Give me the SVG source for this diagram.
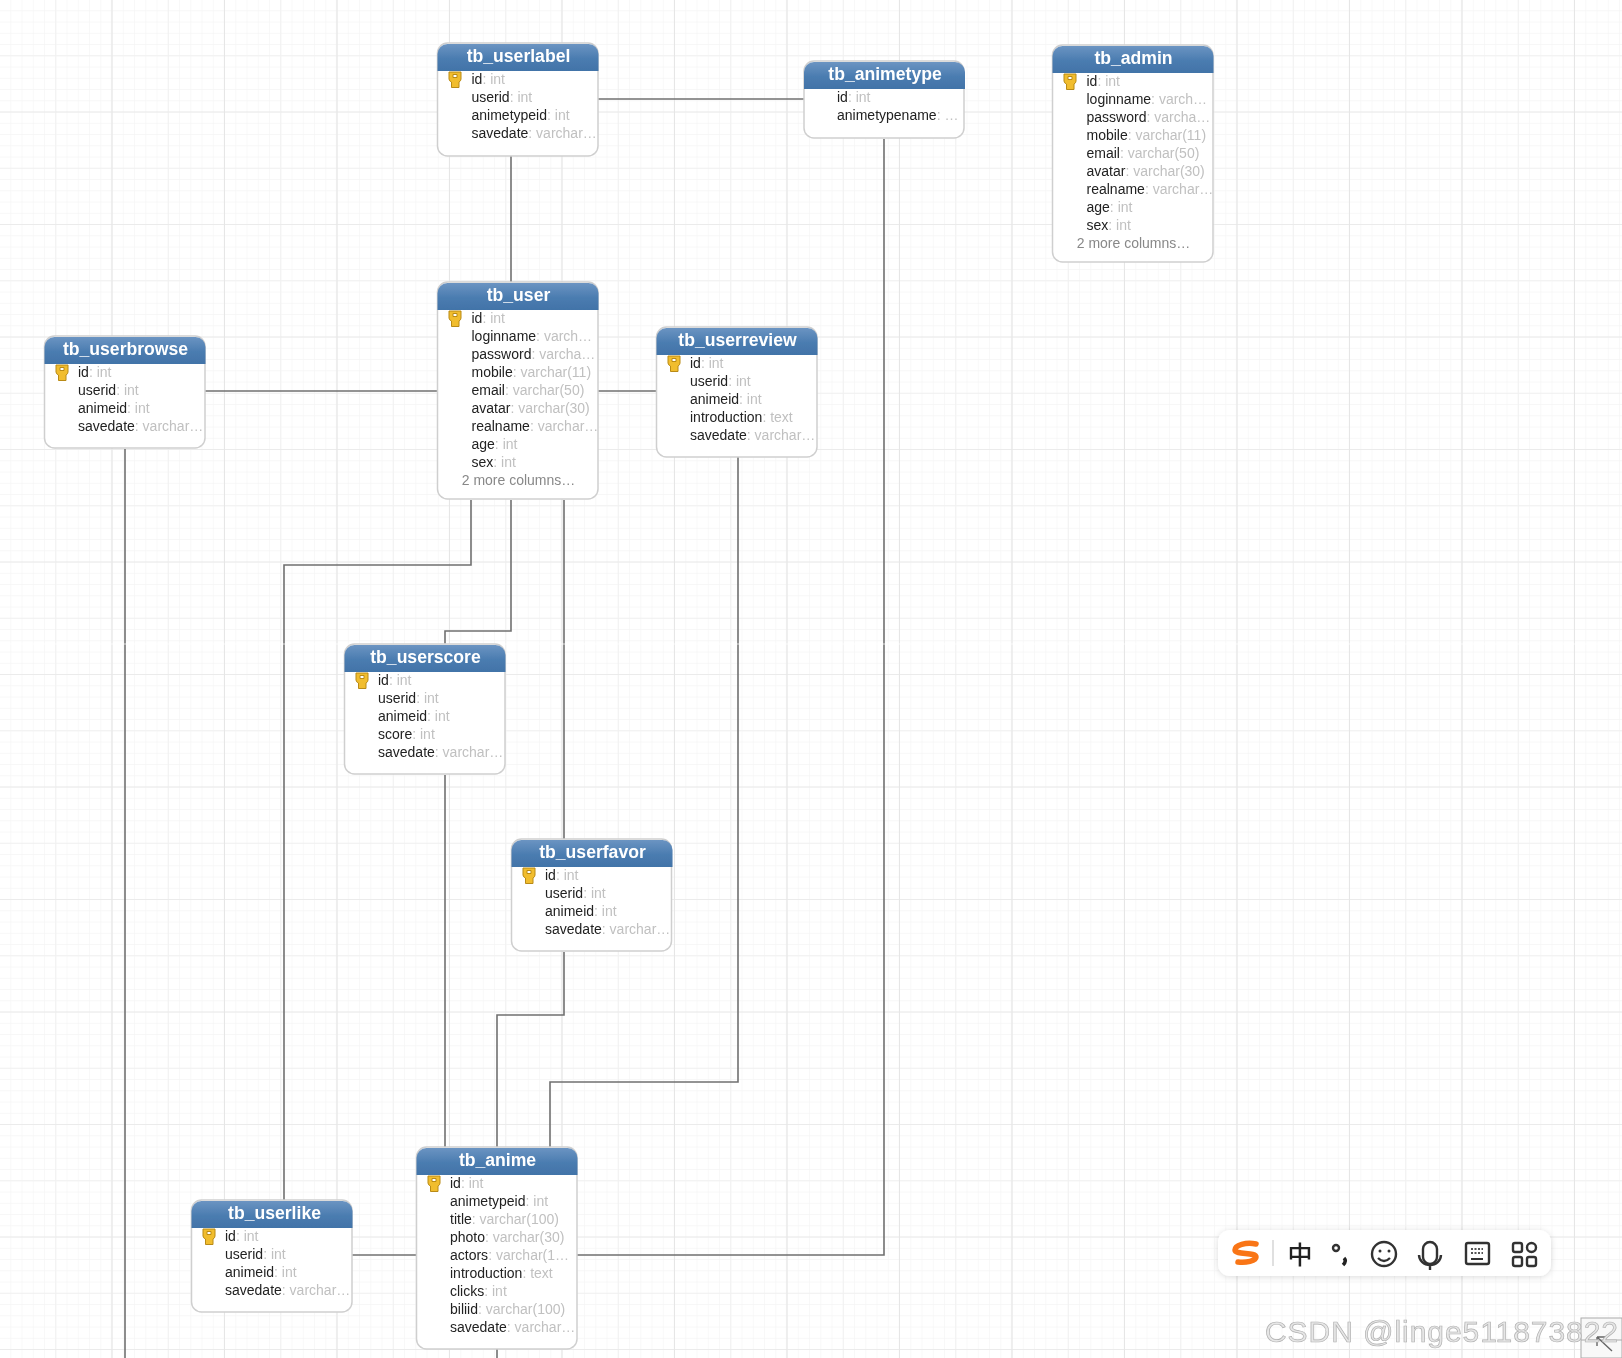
<svg xmlns="http://www.w3.org/2000/svg" width="1622" height="1358" viewBox="0 0 1622 1358">
<style>
.c{fill:none;stroke:#707070;stroke-width:1.6}
.box{fill:#fff;stroke:#cfcfcf;stroke-width:1.5}
.t{font:bold 17.600px "Liberation Sans",Arial,sans-serif;fill:#fff;text-anchor:middle}
.r{font:14px "Liberation Sans",Arial,sans-serif;fill:#222}
.r tspan{fill:#c0c0c0}
.m{font:14px "Liberation Sans",Arial,sans-serif;fill:#888;text-anchor:middle}
.ic{fill:none;stroke:#333;stroke-width:2.4}
</style>
<defs>
<pattern id="gf" width="11.25" height="11.25" patternUnits="userSpaceOnUse"><path d="M11.25 0V11.25M0 11.25H11.25" fill="none" stroke="#f5f5f5" stroke-width="1.3"/></pattern>
<pattern id="gm" width="56.25" height="56.25" patternUnits="userSpaceOnUse"><path d="M56 0V56.25M0 56H56.25" fill="none" stroke="#f1f1f1" stroke-width="1.5"/></pattern>
<pattern id="gM" width="112.5" height="112.5" patternUnits="userSpaceOnUse"><path d="M112 0V112.5M0 112.5H112.5" fill="none" stroke="#e6e6e6" stroke-width="1.2"/></pattern>
<linearGradient id="hd" x1="0" y1="0" x2="0" y2="1"><stop offset="0" stop-color="#6b94c2"/><stop offset=".55" stop-color="#4a7cb0"/><stop offset="1" stop-color="#4273a8"/></linearGradient>
<filter id="soft" x="-5%" y="-5%" width="110%" height="110%"><feGaussianBlur stdDeviation="0.5"/></filter>
<filter id="sh" x="-10%" y="-20%" width="120%" height="150%"><feDropShadow dx="0" dy="1" stdDeviation="3" flood-color="#000" flood-opacity=".14"/></filter>
<g id="hdr"><path d="M0 28V11a10 10 0 0 1 10-10H151a10 10 0 0 1 10 10V28Z" fill="url(#hd)"/></g>
<g id="key"><path d="M11.500 29H23.500V36Q23.500 38 21.500 39V44.500H14V39Q11.500 38 11.500 36Z M15.500 31.500V34.500H19.500V31.500Z" fill="#f1bd2e" stroke="#b98a12" stroke-width="1" fill-rule="evenodd"/></g>
</defs>
<rect width="1622" height="1358" fill="#fff"/>
<rect width="1622" height="1358" fill="url(#gf)"/>
<rect width="1622" height="1358" fill="url(#gm)"/>
<rect width="1622" height="1358" fill="url(#gM)"/>
<g filter="url(#soft)">
<g id="connectors">
<path class="c" d="M598 99H804"/>
<path class="c" d="M511 156V282"/>
<path class="c" d="M884 139V1255H577"/>
<path class="c" d="M205 391H437"/>
<path class="c" d="M598 391H656"/>
<path class="c" d="M471 500V565H284V1200"/>
<path class="c" d="M511 500V631H445V644"/>
<path class="c" d="M564 500V839"/>
<path class="c" d="M445 775V1147"/>
<path class="c" d="M564 952V1015H497V1147"/>
<path class="c" d="M738 457V1082H550V1147"/>
<path class="c" d="M352 1255H417"/>
<path class="c" d="M125 449V1358"/>
<path class="c" d="M497 1349V1358"/>
</g>
<rect y="643.500" width="1622" height="1" fill="#fff" opacity=".75"/>
<g id="tb_userlabel" transform="translate(437.500 43)"><rect class="box" width="160.500" height="113" rx="10"/><use href="#hdr"/><use href="#key"/><text class="t" x="81" y="19">tb_userlabel</text>
<text class="r" x="34" y="41">id<tspan>: int</tspan></text><text class="r" x="34" y="59">userid<tspan>: int</tspan></text><text class="r" x="34" y="77">animetypeid<tspan>: int</tspan></text><text class="r" x="34" y="95">savedate<tspan>: varchar…</tspan></text></g>
<g id="tb_animetype" transform="translate(804 61)"><rect class="box" width="160" height="77" rx="10"/><use href="#hdr"/><text class="t" x="81" y="19">tb_animetype</text>
<text class="r" x="33" y="41">id<tspan>: int</tspan></text><text class="r" x="33" y="59">animetypename<tspan>: …</tspan></text></g>
<g id="tb_admin" transform="translate(1052.500 45)"><rect class="box" width="160.500" height="217" rx="10"/><use href="#hdr"/><use href="#key"/><text class="t" x="81" y="19">tb_admin</text>
<text class="r" x="34" y="41">id<tspan>: int</tspan></text><text class="r" x="34" y="59">loginname<tspan>: varch…</tspan></text><text class="r" x="34" y="77">password<tspan>: varcha…</tspan></text><text class="r" x="34" y="95">mobile<tspan>: varchar(11)</tspan></text><text class="r" x="34" y="113">email<tspan>: varchar(50)</tspan></text><text class="r" x="34" y="131">avatar<tspan>: varchar(30)</tspan></text><text class="r" x="34" y="149">realname<tspan>: varchar…</tspan></text><text class="r" x="34" y="167">age<tspan>: int</tspan></text><text class="r" x="34" y="185">sex<tspan>: int</tspan></text><text class="m" x="81" y="203">2 more columns…</text></g>
<g id="tb_user" transform="translate(437.500 282)"><rect class="box" width="160.500" height="217" rx="10"/><use href="#hdr"/><use href="#key"/><text class="t" x="81" y="19">tb_user</text>
<text class="r" x="34" y="41">id<tspan>: int</tspan></text><text class="r" x="34" y="59">loginname<tspan>: varch…</tspan></text><text class="r" x="34" y="77">password<tspan>: varcha…</tspan></text><text class="r" x="34" y="95">mobile<tspan>: varchar(11)</tspan></text><text class="r" x="34" y="113">email<tspan>: varchar(50)</tspan></text><text class="r" x="34" y="131">avatar<tspan>: varchar(30)</tspan></text><text class="r" x="34" y="149">realname<tspan>: varchar…</tspan></text><text class="r" x="34" y="167">age<tspan>: int</tspan></text><text class="r" x="34" y="185">sex<tspan>: int</tspan></text><text class="m" x="81" y="203">2 more columns…</text></g>
<g id="tb_userbrowse" transform="translate(44.500 336)"><rect class="box" width="160.500" height="112" rx="10"/><use href="#hdr"/><use href="#key"/><text class="t" x="81" y="19">tb_userbrowse</text>
<text class="r" x="33.500" y="41">id<tspan>: int</tspan></text><text class="r" x="33.500" y="59">userid<tspan>: int</tspan></text><text class="r" x="33.500" y="77">animeid<tspan>: int</tspan></text><text class="r" x="33.500" y="95">savedate<tspan>: varchar…</tspan></text></g>
<g id="tb_userreview" transform="translate(656.500 327)"><rect class="box" width="160.500" height="130" rx="10"/><use href="#hdr"/><use href="#key"/><text class="t" x="81" y="19">tb_userreview</text>
<text class="r" x="33.500" y="41">id<tspan>: int</tspan></text><text class="r" x="33.500" y="59">userid<tspan>: int</tspan></text><text class="r" x="33.500" y="77">animeid<tspan>: int</tspan></text><text class="r" x="33.500" y="95">introduction<tspan>: text</tspan></text><text class="r" x="33.500" y="113">savedate<tspan>: varchar…</tspan></text></g>
<g id="tb_userscore" transform="translate(344.500 644)"><rect class="box" width="160.500" height="130" rx="10"/><use href="#hdr"/><use href="#key"/><text class="t" x="81" y="19">tb_userscore</text>
<text class="r" x="33.500" y="41">id<tspan>: int</tspan></text><text class="r" x="33.500" y="59">userid<tspan>: int</tspan></text><text class="r" x="33.500" y="77">animeid<tspan>: int</tspan></text><text class="r" x="33.500" y="95">score<tspan>: int</tspan></text><text class="r" x="33.500" y="113">savedate<tspan>: varchar…</tspan></text></g>
<g id="tb_userfavor" transform="translate(511.500 839)"><rect class="box" width="160" height="112" rx="10"/><use href="#hdr"/><use href="#key"/><text class="t" x="81" y="19">tb_userfavor</text>
<text class="r" x="33.500" y="41">id<tspan>: int</tspan></text><text class="r" x="33.500" y="59">userid<tspan>: int</tspan></text><text class="r" x="33.500" y="77">animeid<tspan>: int</tspan></text><text class="r" x="33.500" y="95">savedate<tspan>: varchar…</tspan></text></g>
<g id="tb_anime" transform="translate(416.500 1147)"><rect class="box" width="160.500" height="202" rx="10"/><use href="#hdr"/><use href="#key"/><text class="t" x="81" y="19">tb_anime</text>
<text class="r" x="33.500" y="41">id<tspan>: int</tspan></text><text class="r" x="33.500" y="59">animetypeid<tspan>: int</tspan></text><text class="r" x="33.500" y="77">title<tspan>: varchar(100)</tspan></text><text class="r" x="33.500" y="95">photo<tspan>: varchar(30)</tspan></text><text class="r" x="33.500" y="113">actors<tspan>: varchar(1…</tspan></text><text class="r" x="33.500" y="131">introduction<tspan>: text</tspan></text><text class="r" x="33.500" y="149">clicks<tspan>: int</tspan></text><text class="r" x="33.500" y="167">biliid<tspan>: varchar(100)</tspan></text><text class="r" x="33.500" y="185">savedate<tspan>: varchar…</tspan></text></g>
<g id="tb_userlike" transform="translate(191.500 1200)"><rect class="box" width="160.500" height="112" rx="10"/><use href="#hdr"/><use href="#key"/><text class="t" x="83" y="19">tb_userlike</text>
<text class="r" x="33.500" y="41">id<tspan>: int</tspan></text><text class="r" x="33.500" y="59">userid<tspan>: int</tspan></text><text class="r" x="33.500" y="77">animeid<tspan>: int</tspan></text><text class="r" x="33.500" y="95">savedate<tspan>: varchar…</tspan></text></g>
<g id="toolbar">
<rect x="1218" y="1230" width="333" height="46" rx="12" fill="#fff" filter="url(#sh)"/>
<path d="M1256 1244C1246 1242 1235 1245 1235 1250C1235 1255 1256 1252 1256 1257C1256 1261 1246 1263 1238 1262" fill="none" stroke="#f97514" stroke-width="5.500" stroke-linecap="round"/>
<path d="M1273 1240V1266" stroke="#ccc" stroke-width="1.200"/>
<text x="1300" y="1264" font-family="'Noto Sans CJK SC',sans-serif" font-size="25" font-weight="500" fill="#222" text-anchor="middle">中</text>
<circle cx="1336" cy="1248" r="3" class="ic" stroke-width="2"/><path d="M1344 1258q3 3 -1 7" fill="none" stroke="#222" stroke-width="3.500"/>
<circle cx="1384" cy="1254" r="12" class="ic"/><circle cx="1380" cy="1251" r="1.500" fill="#333"/><circle cx="1389" cy="1251" r="1.500" fill="#333"/><path class="ic" stroke-width="2" d="M1378 1258q6 6 12 0"/>
<rect x="1423" y="1242" width="14" height="22" rx="7" class="ic"/><path class="ic" d="M1419 1255a11 10 0 0 0 22 0M1430 1265V1270"/>
<rect x="1466" y="1243" width="23" height="21" rx="2" class="ic"/><path d="M1471 1259H1483" stroke="#333" stroke-width="2"/><path d="M1471 1249H1483M1471 1253H1483" stroke="#555" stroke-width="2" stroke-dasharray="2 1.500"/>
<g class="ic"><rect x="1513" y="1243" width="9" height="9" rx="2"/><rect x="1527" y="1243" width="9" height="9" rx="4.500"/><rect x="1513" y="1257" width="9" height="9" rx="2"/><rect x="1527" y="1257" width="9" height="9" rx="2"/></g>
</g>
<g id="corner">
<rect x="1581" y="1318" width="41" height="40" fill="#f8f8f8" stroke="#aaa"/>
<path d="M1581 1340H1622" stroke="#aaa"/>
<path d="M1612 1351L1597 1337M1597 1337V1346M1597 1337H1606" fill="none" stroke="#666" stroke-width="1.400"/>
</g>
<text id="watermark" x="1265" y="1342" font-family="'Liberation Sans',Arial,sans-serif" font-size="30" fill="#e6e6e6" stroke="#b0b0b0" stroke-width=".7" textLength="353">CSDN @linge511873822</text>
</g>
</svg>
